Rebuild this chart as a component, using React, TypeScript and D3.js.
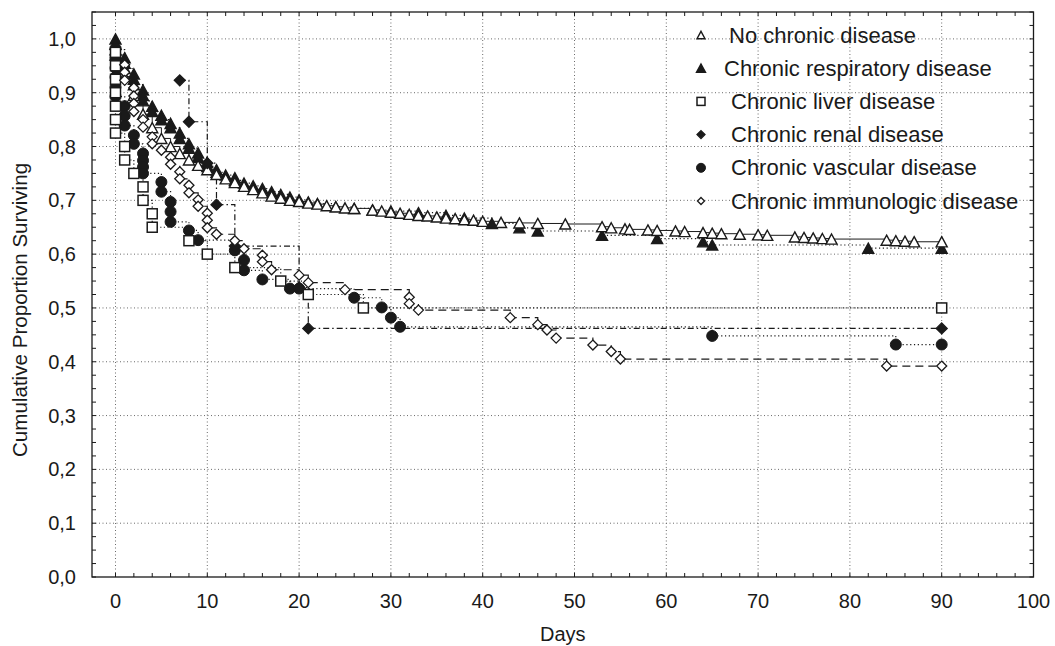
import React from 'react';
import * as d3 from 'd3';

// ---------- data ----------
const xTickValues = [0, 10, 20, 30, 40, 50, 60, 70, 80, 90, 100];
const yTickValues = [0, 0.1, 0.2, 0.3, 0.4, 0.5, 0.6, 0.7, 0.8, 0.9, 1.0];
const yTickLabels = ['0,0', '0,1', '0,2', '0,3', '0,4', '0,5', '0,6', '0,7', '0,8', '0,9', '1,0'];
const xTitle = 'Days';
const yTitle = 'Cumulative Proportion Surviving';

const seriesNames = [
  'No chronic disease',
  'Chronic respiratory disease',
  'Chronic liver disease',
  'Chronic renal disease',
  'Chronic vascular disease',
  'Chronic immunologic disease',
];

const noChronic: [number, number][] = [
  [0, 0.97], [1, 0.93], [2, 0.895], [3, 0.86], [4, 0.835], [5, 0.815], [6, 0.8], [7, 0.787], [8, 0.775],
  [9, 0.765], [10, 0.757], [11, 0.748], [12, 0.74], [13, 0.733], [14, 0.726], [15, 0.72], [16, 0.714],
  [17, 0.708], [18, 0.704], [19, 0.7], [20, 0.698], [21, 0.695], [22, 0.693], [23, 0.69], [24, 0.688],
  [25, 0.686], [26, 0.685], [28, 0.682], [29, 0.68], [30, 0.678], [31, 0.676], [32, 0.674], [33, 0.672],
  [34, 0.671], [35, 0.669], [36, 0.667], [37, 0.666], [38, 0.664], [39, 0.663], [40, 0.661], [42, 0.659],
  [44, 0.658], [46, 0.657], [49, 0.656], [53, 0.651], [54, 0.649], [55.5, 0.647], [56, 0.646], [58, 0.645],
  [59, 0.644], [61, 0.643], [62, 0.642], [64, 0.64], [65, 0.639], [66, 0.638], [68, 0.637], [70, 0.636],
  [71, 0.635], [74, 0.632], [75, 0.631], [76, 0.63], [77, 0.629], [78, 0.628], [84, 0.626], [85, 0.625],
  [86, 0.624], [87, 0.623], [90, 0.623],
];

const respiratory: [number, number][] = [
  [0, 1.0], [0, 0.99], [0, 0.98], [1, 0.965], [1, 0.955], [1, 0.945], [2, 0.935], [2, 0.925], [2, 0.915],
  [3, 0.905], [3, 0.895], [3, 0.885], [4, 0.875], [4, 0.865], [5, 0.858], [5, 0.85], [6, 0.843], [6, 0.835],
  [7, 0.825], [7, 0.815], [8, 0.805], [8, 0.797], [9, 0.788], [9, 0.78], [10, 0.77], [10, 0.763],
  [11, 0.757], [11, 0.752], [12, 0.747], [13, 0.742], [13, 0.737], [14, 0.732], [15, 0.727], [16, 0.722],
  [17, 0.716], [18, 0.711], [19, 0.706], [20, 0.701], [21, 0.697], [22, 0.694], [24, 0.688], [26, 0.685],
  [28, 0.682], [30, 0.68], [33, 0.677], [36, 0.672], [38, 0.667], [41, 0.657], [44, 0.649], [46, 0.643],
  [53, 0.635], [59, 0.629], [64, 0.623], [65, 0.617], [82, 0.611], [90, 0.611],
];

const liver: [number, number][] = [
  [0, 0.975], [0, 0.95], [0, 0.925], [0, 0.9], [0, 0.875], [0, 0.85], [0, 0.825], [1, 0.8], [1, 0.775],
  [2, 0.75], [3, 0.725], [3, 0.7], [4, 0.675], [4, 0.65], [8, 0.625], [10, 0.6], [13, 0.575], [18, 0.55],
  [21, 0.525], [27, 0.5], [90, 0.5],
];

const renal: [number, number][] = [
  [7, 0.923], [8, 0.846], [10, 0.769], [11, 0.692], [13, 0.615], [20, 0.538], [21, 0.462], [90, 0.462],
];

const vascular: [number, number][] = [
  [0, 0.982], [0, 0.964], [0, 0.946], [0, 0.929], [0, 0.911], [0, 0.893], [1, 0.875], [1, 0.857], [1, 0.839],
  [2, 0.821], [2, 0.805], [3, 0.787], [3, 0.774], [3, 0.762], [3, 0.75], [5, 0.734], [5, 0.716], [6, 0.697],
  [6, 0.679], [6, 0.66], [8, 0.644], [9, 0.626], [13, 0.607], [14, 0.589], [14, 0.57], [16, 0.553],
  [19, 0.536], [20, 0.536], [26, 0.519], [29, 0.501], [30, 0.482], [31, 0.465], [65, 0.448], [85, 0.432],
  [90, 0.432],
];

const immunologic: [number, number][] = [
  [1, 0.952], [1, 0.938], [1, 0.923], [2, 0.909], [2, 0.894], [2, 0.88], [2, 0.865], [3, 0.85], [3, 0.836],
  [4, 0.818], [4, 0.805], [5, 0.793], [6, 0.78], [6, 0.767], [7, 0.753], [7, 0.74], [8, 0.728], [8, 0.714],
  [9, 0.701], [9, 0.689], [10, 0.676], [10, 0.663], [10, 0.649], [11, 0.637], [13, 0.625], [14, 0.61],
  [16, 0.598], [16, 0.586], [17, 0.571], [20, 0.561], [21, 0.547], [25, 0.534], [32, 0.52], [32, 0.508],
  [33, 0.496], [43, 0.482], [46, 0.469], [47, 0.459], [48, 0.444], [52, 0.431], [54, 0.419], [55, 0.405],
  [84, 0.392], [90, 0.392],
];

// ---------- layout ----------
const W = 1055;
const H = 646;
const FL = 92;
const FR = 1033.5;
const FT = 12;
const FB = 577;
const FONT = '"Liberation Sans", Arial, Helvetica, sans-serif';
const INK = '#1a1a1a';

type Marker = 'triOpen' | 'triFilled' | 'squareOpen' | 'diamondFilled' | 'circleFilled' | 'diamondOpen';

interface Series {
  name: string;
  data: [number, number][];
  marker: Marker;
  dash: string | undefined;
  lineWidth: number;
}

const series: Series[] = [
  { name: seriesNames[0], data: noChronic, marker: 'triOpen', dash: undefined, lineWidth: 1 },
  { name: seriesNames[1], data: respiratory, marker: 'triFilled', dash: '1.2,2.6', lineWidth: 1.2 },
  { name: seriesNames[2], data: liver, marker: 'squareOpen', dash: '1.2,2.4', lineWidth: 1.2 },
  { name: seriesNames[3], data: renal, marker: 'diamondFilled', dash: '6,3,1.5,3', lineWidth: 1.2 },
  { name: seriesNames[4], data: vascular, marker: 'circleFilled', dash: '1.2,2.6', lineWidth: 1.2 },
  { name: seriesNames[5], data: immunologic, marker: 'diamondOpen', dash: '8,5', lineWidth: 1.2 },
];

// order in which markers are painted (later on top)
const paintOrder = [1, 0, 4, 3, 2, 5];

function MarkerShape({ type, cx, cy, s }: { type: Marker; cx: number; cy: number; s: number }) {
  const h = s / 2;
  switch (type) {
    case 'triOpen':
    case 'triFilled': {
      const th = s * 0.92;
      const d = `M${cx},${cy - th / 2}L${cx + h},${cy + th / 2}L${cx - h},${cy + th / 2}Z`;
      return (
        <path d={d} fill={type === 'triFilled' ? INK : '#fff'} stroke={INK} strokeWidth={1.4} strokeLinejoin="miter" />
      );
    }
    case 'squareOpen':
      return <rect x={cx - h} y={cy - h} width={s} height={s} fill="#fff" stroke={INK} strokeWidth={1.5} />;
    case 'diamondOpen':
    case 'diamondFilled': {
      const d = `M${cx},${cy - h}L${cx + h},${cy}L${cx},${cy + h}L${cx - h},${cy}Z`;
      return <path d={d} fill={type === 'diamondFilled' ? INK : '#fff'} stroke={INK} strokeWidth={1.3} />;
    }
    case 'circleFilled':
      return <circle cx={cx} cy={cy} r={h} fill={INK} stroke={INK} strokeWidth={1} />;
  }
  return null;
}

const markerSize: Record<Marker, number> = {
  triOpen: 11,
  triFilled: 11,
  squareOpen: 10,
  diamondFilled: 11,
  circleFilled: 11,
  diamondOpen: 10,
};

const legendMarkerSize: Record<Marker, number> = {
  triOpen: 8,
  triFilled: 9,
  squareOpen: 8,
  diamondFilled: 8,
  circleFilled: 9,
  diamondOpen: 7,
};

export default function App() {
  const x = d3.scaleLinear().domain([-2.56, 100]).range([FL, FR]);
  const y = d3.scaleLinear().domain([0, 1.05]).range([FB, FT]);

  const line = d3
    .line<[number, number]>()
    .x((d) => x(d[0]))
    .y((d) => y(d[1]))
    .curve(d3.curveStepAfter);

  const minorX = d3.range(0, 101, 2);
  const minorY = d3.range(0, 1.051, 0.025);

  const legendX = 701;
  const legendTextX = [729, 724, 731, 731, 731, 731];
  const legendY0 = 35;
  const legendStep = 33.2;

  return (
    <svg
      width={W}
      height={H}
      viewBox={`0 0 ${W} ${H}`}
      style={{ position: 'absolute', left: 0, top: 0, background: '#fff' }}
      fontFamily={FONT}
    >
      <rect x={0} y={0} width={W} height={H} fill="#fff" />

      {/* grid */}
      <g stroke="#6a6a6a" strokeWidth={1} strokeDasharray="1,2.5" fill="none">
        {xTickValues
          .filter((v) => v < 100)
          .map((v) => (
            <line key={'gx' + v} x1={x(v)} x2={x(v)} y1={FT} y2={FB} />
          ))}
        {yTickValues
          .filter((v) => v > 0)
          .map((v) => (
            <line key={'gy' + v} x1={FL} x2={FR} y1={y(v)} y2={y(v)} />
          ))}
      </g>

      {/* minor / major ticks on all four sides (inward) */}
      <g stroke={INK} strokeWidth={1}>
        {minorX.map((v) => (
          <g key={'tx' + v}>
            <line x1={x(v)} x2={x(v)} y1={FB} y2={FB - 4} />
            <line x1={x(v)} x2={x(v)} y1={FT} y2={FT + 4} />
          </g>
        ))}
        {minorY.map((v, i) => (
          <g key={'ty' + i}>
            <line x1={FL} x2={FL + 4} y1={y(v)} y2={y(v)} />
            <line x1={FR} x2={FR - 4} y1={y(v)} y2={y(v)} />
          </g>
        ))}
      </g>

      {/* frame */}
      <rect x={FL} y={FT} width={FR - FL} height={FB - FT} fill="none" stroke={INK} strokeWidth={1.3} />

      {/* step lines */}
      <g fill="none">
        {series.map((s) => (
          <path
            key={'l' + s.name}
            d={line(s.data) || ''}
            stroke={INK}
            strokeWidth={s.lineWidth}
            strokeDasharray={s.dash}
          />
        ))}
      </g>

      {/* markers */}
      {paintOrder.map((si) => {
        const s = series[si];
        return (
          <g key={'m' + s.name}>
            {s.data.map((d, i) => (
              <MarkerShape key={i} type={s.marker} cx={x(d[0])} cy={y(d[1])} s={markerSize[s.marker]} />
            ))}
          </g>
        );
      })}

      {/* y tick labels */}
      <g fontSize={20} fill={INK} textAnchor="end">
        {yTickValues.map((v, i) => (
          <text key={'yl' + i} x={76} y={y(v)} dominantBaseline="central">
            {yTickLabels[i]}
          </text>
        ))}
      </g>

      {/* x tick labels */}
      <g fontSize={20} fill={INK} textAnchor="middle">
        {xTickValues.map((v) => (
          <text key={'xl' + v} x={x(v)} y={601} dominantBaseline="central">
            {v}
          </text>
        ))}
      </g>

      {/* axis titles */}
      <text x={(FL + FR) / 2} y={634} fontSize={20} textAnchor="middle" dominantBaseline="central" fill={INK}>
        {xTitle}
      </text>
      <text
        transform={`translate(19,310) rotate(-90)`}
        fontSize={20.6}
        textAnchor="middle"
        dominantBaseline="central"
        fill={INK}
      >
        {yTitle}
      </text>

      {/* legend */}
      {series.map((s, i) => {
        const ly = legendY0 + i * legendStep;
        return (
          <g key={'lg' + s.name}>
            <MarkerShape type={s.marker} cx={legendX} cy={ly} s={legendMarkerSize[s.marker]} />
            <text x={legendTextX[i]} y={ly} fontSize={22} dominantBaseline="central" fill={INK}>
              {s.name}
            </text>
          </g>
        );
      })}
    </svg>
  );
}
